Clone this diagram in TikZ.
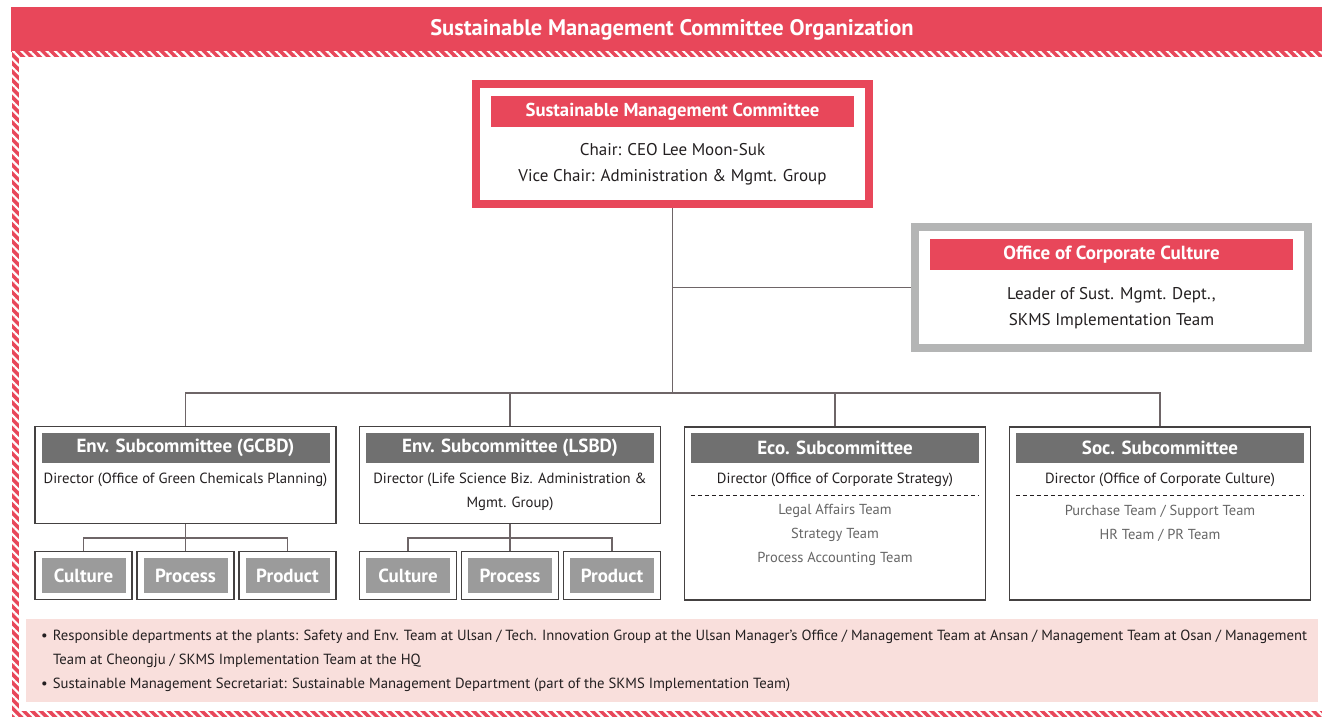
\documentclass[tikz,border=0pt]{standalone}
\usepackage{fontspec}
\setmainfont{PT Sans}
\usetikzlibrary{patterns.meta}
\definecolor{skred}{HTML}{E8475A}
\definecolor{skgray}{HTML}{707070}
\definecolor{sklight}{HTML}{9B9B9B}
\definecolor{skframe}{HTML}{B4B5B5}
\definecolor{sktext}{HTML}{231F20}
\definecolor{skteam}{HTML}{666666}
\definecolor{skline}{HTML}{6E6567}
\definecolor{skpink}{HTML}{F9DFDC}
\tikzset{
	bar/.style={fill=#1,text=white,font=\bfseries\fontsize{19}{20}\selectfont,inner sep=0},
	subbox/.style={draw=sktext!85,line width=1.2,fill=white},
	link/.style={draw=skline,line width=1.3},
	sep/.style={draw=sktext,line width=1,dash pattern=on 4 off 3},
}
\begin{document}
\begin{tikzpicture}[x=1pt,y=-1pt,font=\fontsize{14.7}{24}\selectfont,text=sktext]
	\fill[white] (0,0) rectangle (1322,717);
	% frame
	\fill[skred] (11,7) rectangle (1322,52);
	\node[text=white,font=\bfseries\fontsize{22.5}{24}\selectfont] (title) at (672,30) {Sustainable Management Committee Organization};
	\foreach \a/\b in {{12,52}/{1322,57},{12,52}/{19,717},{12,711}/{1322,717}}
	\fill[skred,postaction={pattern={Lines[angle=-45,distance=6pt,line width=2.2pt]},pattern color=white}] (\a) rectangle (\b);
	% committee and office
	\node[draw=skred,line width=8,minimum width=393,minimum height=120] (comm) at (672.5,144) {};
	\node[bar=skred,minimum width=363,minimum height=31,font=\bfseries\fontsize{18.7}{20}\selectfont] (comm-bar) at (672.5,111.5) {Sustainable Management Committee};
	\node[align=center,font=\fontsize{17}{26}\selectfont] (comm-txt) at (672.5,164) {Chair: CEO Lee Moon-Suk\\Vice Chair: Administration \& Mgmt. Group};
	\node[draw=skframe,line width=8,minimum width=393,minimum height=121] (office) at (1111.5,287.5) {};
	\node[bar=skred,minimum width=363,minimum height=31] (office-bar) at (1111.5,254.5) {Office of Corporate Culture};
	\node[align=center,font=\fontsize{17}{26}\selectfont] (office-txt) at (1111.5,308) {Leader of Sust. Mgmt. Dept.,\\SKMS Implementation Team};
	% subcommittees
	\foreach \n/\x/\y/\h/\t in {gcbd/185.5/475/97/Env. Subcommittee (GCBD),lsbd/510/475/97/Env. Subcommittee (LSBD),eco/835/513.5/173/Eco. Subcommittee,soc/1160/513.5/173/Soc. Subcommittee}{
		\node[subbox,minimum width=301,minimum height=\h] (\n) at (\x,\y) {};
		\node[bar=skgray,minimum width=288,minimum height=30] (\n-bar) at (\x,448) {\t};
	}
	\node (gcbd-dir) at (185.5,480) {Director (Office of Green Chemicals Planning)};
	\node[align=center] (lsbd-dir) at (510,492) {Director (Life Science Biz. Administration \&\\Mgmt. Group)};
	\node (eco-dir) at (835,480) {Director (Office of Corporate Strategy)};
	\node (soc-dir) at (1160,480) {Director (Office of Corporate Culture)};
	\draw[sep] (eco-bar.south west) ++(0,32.5) -- ++(288,0);
	\draw[sep] (soc-bar.south west) ++(0,32.5) -- ++(288,0);
	\node[text=skteam,align=center,font=\fontsize{14.5}{24}\selectfont] (eco-team) at (835,535) {Legal Affairs Team\\Strategy Team\\Process Accounting Team};
	\node[text=skteam,align=center,font=\fontsize{14.5}{24}\selectfont] (soc-team) at (1160,523) {Purchase Team / Support Team\\HR Team / PR Team};
	% units under the Env. subcommittees
	\foreach \g/\x in {gcbd/185.5,lsbd/510}
	\foreach \i/\d/\t in {1/-102/Culture,2/0/Process,3/102/Product}{
		\node[subbox,minimum width=97,minimum height=48] (\g\i) at (\x+\d,575.5) {};
		\node[bar=sklight,minimum width=84,minimum height=35] (\g\i-bar) at (\g\i) {\t};
	}
	% connectors
	\coordinate (hub) at (672.5,393);
	\draw[link] (comm.south) -- (hub);
	\draw[link] (comm.south |- office.west) -- (office.west);
	\draw[link] (gcbd.north) |- (hub) -| (soc.north);
	\foreach \n in {lsbd,eco} \draw[link] (\n.north) -- (\n.north |- hub);
	\foreach \g in {gcbd,lsbd}{
		\draw[link] (\g.south) -- (\g2.north);
		\draw[link] (\g1.north) -- ++(0,-13) -| (\g3.north);
	}
	% notes
	\fill[skpink] (26,619) rectangle (1318,702);
	\node[anchor=west,inner sep=0,font=\fontsize{14.7}{16}\selectfont] (note1) at (41,637) {\textbullet\hspace{5pt}Responsible departments at the plants: Safety and Env. Team at Ulsan / Tech. Innovation Group at the Ulsan Manager's Office / Management Team at Ansan / Management Team at Osan / Management};
	\node[anchor=west,inner sep=0,font=\fontsize{14.7}{16}\selectfont] (note2) at (53,661) {Team at Cheongju / SKMS Implementation Team at the HQ};
	\node[anchor=west,inner sep=0,font=\fontsize{14.7}{16}\selectfont] (note3) at (41,685) {\textbullet\hspace{5pt}Sustainable Management Secretariat: Sustainable Management Department (part of the SKMS Implementation Team)};
\end{tikzpicture}
\end{document}
